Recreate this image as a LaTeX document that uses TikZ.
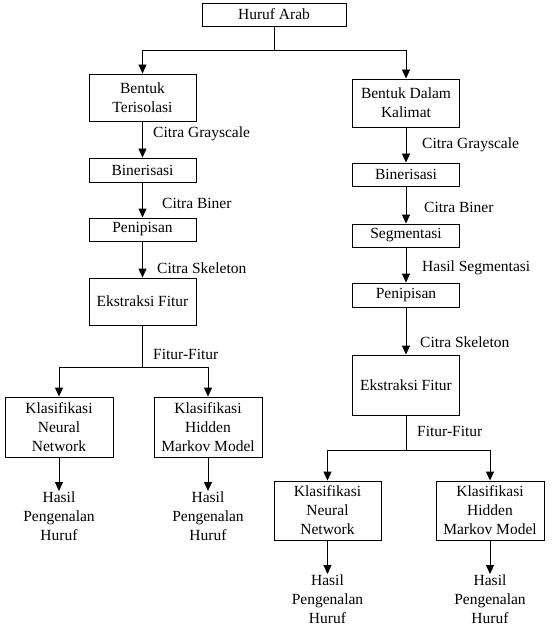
\documentclass[tikz,border=0pt]{standalone}
\usepackage{fontspec}
\setmainfont{Liberation Serif}
\usetikzlibrary{arrows.meta}
\begin{document}
\begin{tikzpicture}[x=1pt,y=-1pt,
  txt/.style={font=\rmfamily\fontsize{15.5}{19}\selectfont},
  box/.style={txt,draw,line width=0.9pt,align=center,inner sep=0pt,minimum width=107pt},
  lbl/.style={txt,anchor=west,inner sep=0pt},
  res/.style={txt,align=center,inner sep=1pt},
  line/.style={line width=0.9pt},
  arr/.style={line width=0.9pt,-{Triangle[length=9pt,width=8pt]}}]
\useasboundingbox (0,0) rectangle (551,639);
% top
\node[box,minimum width=144pt,minimum height=23pt] (top) at (274,14.5) {Huruf Arab};
\coordinate (s1) at (274,50);
% left column
\node[box,minimum height=47pt] (L1) at (142.5,97.5) {Bentuk\\Terisolasi};
\node[box,minimum height=24pt] (L2) at (142.5,170) {Binerisasi};
\node[box,minimum height=23pt] (L3) at (142.5,229.5) {Penipisan};
\node[box,minimum height=47pt] (L4) at (142.5,301.5) {Ekstraksi Fitur};
\coordinate (s2) at (142.5,367);
\node[box,minimum width=108pt,minimum height=60pt] (L5) at (59,427) {Klasifikasi\\Neural\\Network};
\node[box,minimum width=108pt,minimum height=60pt] (L6) at (208,427) {Klasifikasi\\Hidden\\Markov Model};
\node[res,anchor=north] (L7) at (59,491) {Hasil\\Pengenalan\\Huruf};
\node[res,anchor=north] (L8) at (208,491) {Hasil\\Pengenalan\\Huruf};
\node[lbl] (la1) at (153,134) {Citra Grayscale};
\node[lbl] (la2) at (162,203) {Citra Biner};
\node[lbl] (la3) at (157,268) {Citra Skeleton};
\node[lbl] (la4) at (153,354) {Fitur-Fitur};
% right column
\node[box,minimum height=48pt] (R1) at (406,103) {Bentuk Dalam\\Kalimat};
\node[box,minimum height=23pt] (R2) at (406,174.5) {Binerisasi};
\node[box,minimum height=23pt] (R3) at (406,235.5) {Segmentasi};
\node[box,minimum height=24pt] (R4) at (406,295) {Penipisan};
\node[box,minimum height=60pt] (R5) at (406,385) {Ekstraksi Fitur};
\coordinate (s3) at (406,450);
\node[box,minimum height=59pt] (R6) at (327.5,510.5) {Klasifikasi\\Neural\\Network};
\node[box,minimum width=108pt,minimum height=59pt] (R7) at (490,510.5) {Klasifikasi\\Hidden\\Markov Model};
\node[res,anchor=north] (R8) at (327.5,574) {Hasil\\Pengenalan\\Huruf};
\node[res,anchor=north] (R9) at (490,574) {Hasil\\Pengenalan\\Huruf};
\node[lbl] (ra1) at (422,145) {Citra Grayscale};
\node[lbl] (ra2) at (424,207) {Citra Biner};
\node[lbl] (ra3) at (422,268) {Hasil Segmentasi};
\node[lbl] (ra4) at (420,342) {Citra Skeleton};
\node[lbl] (ra5) at (417,431) {Fitur-Fitur};
% connectors
\draw[line] (top) -- (s1);
\draw[arr] (s1) -| (L1);
\draw[arr] (s1) -| (R1);
\draw[arr] (L1) -- (L2);
\draw[arr] (L2) -- (L3);
\draw[arr] (L3) -- (L4);
\draw[line] (L4) -- (s2);
\draw[arr] (s2) -| (L5);
\draw[arr] (s2) -| (L6);
\draw[arr] (L5) -- (L7);
\draw[arr] (L6) -- (L8);
\draw[arr] (R1) -- (R2);
\draw[arr] (R2) -- (R3);
\draw[arr] (R3) -- (R4);
\draw[arr] (R4) -- (R5);
\draw[line] (R5) -- (s3);
\draw[arr] (s3) -| (R6);
\draw[arr] (s3) -| (R7);
\draw[arr] (R6) -- (R8);
\draw[arr] (R7) -- (R9);
\end{tikzpicture}
\end{document}
